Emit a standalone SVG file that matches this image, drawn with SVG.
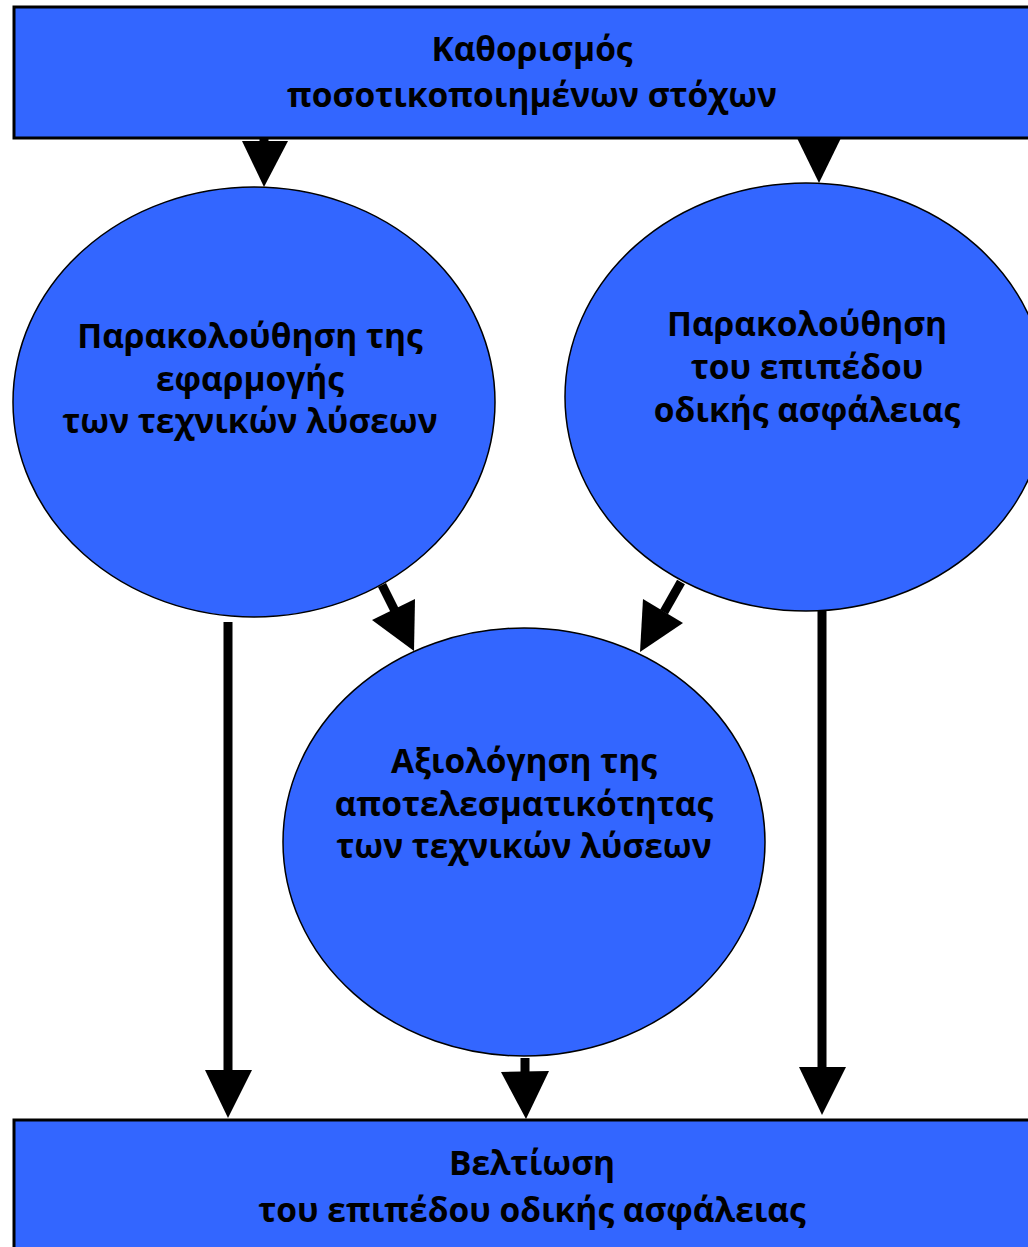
<svg xmlns="http://www.w3.org/2000/svg" width="1028" height="1247" viewBox="0 0 1028 1247">
<style>
.box{fill:#3366FF;stroke:#000;stroke-width:3}
.ell{fill:#3366FF;stroke:#000;stroke-width:1.5}
.t{font-family:"Open Sans","Noto Sans",sans-serif;font-weight:bold;font-size:33.5px;fill:#000;text-anchor:middle}
.shaft{stroke:#000;stroke-width:9;fill:none}
.head{fill:#000;stroke:none}
</style>
<rect width="1028" height="1247" fill="#fff"/>
<g id="top">
<rect class="box" x="14" y="7" width="1030" height="131"/>
<text class="t" x="532" y="61">Καθορισμός</text>
<text class="t" x="532" y="107">ποσοτικοποιημένων στόχων</text>
</g>
<g id="left">
<ellipse class="ell" cx="254" cy="402" rx="241" ry="215"/>
<text class="t" x="250" y="348">Παρακολούθηση της</text>
<text class="t" x="250" y="391">εφαρμογής</text>
<text class="t" x="250" y="433">των τεχνικών λύσεων</text>
</g>
<g id="right">
<ellipse class="ell" cx="806" cy="397" rx="241" ry="214"/>
<text class="t" x="807" y="336">Παρακολούθηση</text>
<text class="t" x="807" y="379">του επιπέδου</text>
<text class="t" x="807" y="422">οδικής ασφάλειας</text>
</g>
<g id="middle">
<ellipse class="ell" cx="524" cy="842" rx="241" ry="214"/>
<text class="t" x="524" y="773">Αξιολόγηση της</text>
<text class="t" x="524" y="816">αποτελεσματικότητας</text>
<text class="t" x="524" y="858">των τεχνικών λύσεων</text>
</g>
<g id="bottom">
<rect class="box" x="14" y="1120" width="1030" height="140"/>
<text class="t" x="532" y="1175">Βελτίωση</text>
<text class="t" x="532" y="1222">του επιπέδου οδικής ασφάλειας</text>
</g>
<g id="connectors">
<line class="shaft" x1="264" y1="138" x2="264" y2="146"/>
<polygon class="head" points="242,141 288,141 264,187"/>
<polygon class="head" points="797,138 841,138 819,183"/>
<line class="shaft" x1="382" y1="585" x2="397" y2="615"/>
<polygon class="head" points="372,620 415,599 414,651"/>
<line class="shaft" x1="681" y1="582" x2="664" y2="612"/>
<polygon class="head" points="643,599 683,623 640,652"/>
<line class="shaft" x1="228" y1="622" x2="228" y2="1075"/>
<polygon class="head" points="205,1070 252,1070 228,1118"/>
<line class="shaft" x1="525" y1="1058" x2="525" y2="1076"/>
<polygon class="head" points="501,1072 549,1071 526,1119"/>
<line class="shaft" x1="822" y1="611" x2="822" y2="1070"/>
<polygon class="head" points="799,1067 846,1067 822,1115"/>
</g>
</svg>
